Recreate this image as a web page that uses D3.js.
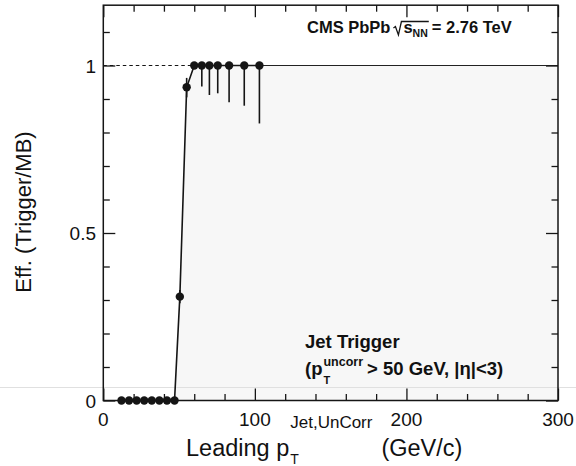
<!DOCTYPE html>
<html>
<head>
<meta charset="utf-8">
<script src="https://cdn.jsdelivr.net/npm/d3@7"></script>
<style>
  html, body { margin: 0; padding: 0; background: #fff; }
  svg { display: block; }
  text { font-family: "Liberation Sans", Arial, Helvetica, sans-serif; fill: #111; }
</style>
</head>
<body>
<svg id="chart" width="576" height="466"></svg>
<script>
// Trigger efficiency vs leading uncorrected jet pT
const ptValues   = [12, 17, 22, 27, 32, 37, 42, 47, 50.5, 55, 60, 65, 70, 75.5, 83, 93, 103];
const effValues  = [0, 0, 0, 0, 0, 0, 0, 0, 0.31, 0.935, 1, 1, 1, 1, 1, 1, 1];
const errLow     = [0, 0, 0, 0, 0, 0, 0, 0, 0.02, 0.03, 0, 0.063, 0.088, 0.083, 0.11, 0.12, 0.173];
const errHigh    = [0, 0, 0, 0, 0, 0, 0, 0, 0.02, 0.028, 0, 0, 0, 0, 0, 0, 0];
const xMajorTicks = [0, 100, 200, 300];
const xMinorTicks = [20, 40, 60, 80, 120, 140, 160, 180, 220, 240, 260, 280];
const yMajorTicks = [0, 0.5, 1];
const yTickLabels = ["0", "0.5", "1"];
const yMinorTicks = [0.1, 0.2, 0.3, 0.4, 0.6, 0.7, 0.8, 0.9, 1.1];

const svg = d3.select("#chart");
const L = 103.3, R = 558, T = 5.2, B = 400.5;
const x = d3.scaleLinear().domain([0, 300]).range([L, R]);
const y = d3.scaleLinear().domain([0, 1.18]).range([B, T]);
const ink = "#151515";

const pts = ptValues.map((p, i) => ({ x: p, y: effValues[i], lo: errLow[i], hi: errHigh[i] }));
const firstFull = pts.find(d => d.y >= 1);

// light shading under the efficiency curve
const rise = pts.filter(d => d.x >= 47 && d.x <= firstFull.x);
const shade = [...rise, { x: 300, y: 1 }, { x: 300, y: 0 }];
svg.append("path")
  .attr("d", d3.line().x(d => x(d.x)).y(d => y(d.y))(shade) + "Z")
  .attr("fill", "#f7f7f7");

// faint horizontal streak across the page
svg.append("line").attr("x1", 0).attr("x2", 576).attr("y1", 387.5).attr("y2", 387.5)
  .attr("stroke", "#e0e0e0").attr("stroke-width", 1);

// unity reference: dashed before plateau, solid along it
svg.append("line")
  .attr("x1", x(0)).attr("x2", x(firstFull.x)).attr("y1", y(1)).attr("y2", y(1))
  .attr("stroke", ink).attr("stroke-width", 1.2).attr("stroke-dasharray", "3.5,3");
svg.append("line")
  .attr("x1", x(firstFull.x)).attr("x2", x(300)).attr("y1", y(1)).attr("y2", y(1))
  .attr("stroke", "#222").attr("stroke-width", 1.2);

// connecting line through the points
svg.append("path")
  .attr("d", d3.line().x(d => x(d.x)).y(d => y(d.y))(pts))
  .attr("fill", "none").attr("stroke", ink).attr("stroke-width", 1.6);

// error bars
svg.append("g").selectAll("line").data(pts.filter(d => d.lo > 0 || d.hi > 0)).join("line")
  .attr("x1", d => x(d.x)).attr("x2", d => x(d.x))
  .attr("y1", d => y(d.y + d.hi)).attr("y2", d => y(d.y - d.lo))
  .attr("stroke", ink).attr("stroke-width", 1.6);

// axes frame and ticks
function tickAxis(axisFn, scale, values, size, tx, ty) {
  const g = svg.append("g").attr("transform", `translate(${tx},${ty})`)
    .call(axisFn(scale).tickValues(values).tickSize(size).tickFormat(""));
  g.select(".domain").remove();
  g.selectAll(".tick line").attr("stroke", ink).attr("stroke-width", 1.3);
  return g;
}
tickAxis(d3.axisBottom, x, xMajorTicks, -12, 0, B);
tickAxis(d3.axisBottom, x, xMinorTicks, -6.5, 0, B);
tickAxis(d3.axisTop, x, xMajorTicks, -12, 0, T);
tickAxis(d3.axisTop, x, xMinorTicks, -6.5, 0, T);
tickAxis(d3.axisLeft, y, yMajorTicks, -12, L, 0);
tickAxis(d3.axisLeft, y, yMinorTicks, -6.5, L, 0);
tickAxis(d3.axisRight, y, yMajorTicks, -12, R, 0);
tickAxis(d3.axisRight, y, yMinorTicks, -6.5, R, 0);

svg.append("rect").attr("x", L).attr("y", T).attr("width", R - L).attr("height", B - T)
  .attr("fill", "none").attr("stroke", ink).attr("stroke-width", 1.5);

// markers
svg.append("g").selectAll("circle").data(pts).join("circle")
  .attr("cx", d => x(d.x)).attr("cy", d => y(d.y)).attr("r", 4.2)
  .attr("fill", ink);

// tick labels
svg.append("g").selectAll("text").data(yMajorTicks).join("text")
  .attr("x", 96).attr("y", d => y(d) + 7)
  .attr("text-anchor", "end").attr("font-size", 19)
  .text((d, i) => yTickLabels[i]);
svg.append("g").selectAll("text").data(xMajorTicks).join("text")
  .attr("x", d => x(d)).attr("y", 426)
  .attr("text-anchor", "middle").attr("font-size", 19)
  .text(d => d);

// y axis title
svg.append("text")
  .attr("transform", "translate(31,212) rotate(-90)")
  .attr("text-anchor", "middle").attr("font-size", 22)
  .text("Eff. (Trigger/MB)");

// x axis title with super/subscripts
function width(sel) { return sel.node().getComputedTextLength(); }
const xt1 = svg.append("text").attr("x", 186).attr("y", 456).attr("font-size", 23.5).text("Leading p");
const xe = 186 + width(xt1);
const xsup = svg.append("text").attr("x", xe + 1).attr("y", 428).attr("font-size", 17).text("Jet,UnCorr");
svg.append("text").attr("x", xe + 1).attr("y", 464).attr("font-size", 14).text("T");
svg.append("text").attr("x", xe + 1 + width(xsup) + 9).attr("y", 456).attr("font-size", 23.5).text("(GeV/c)");

// experiment label
const c1 = svg.append("text").attr("x", 307).attr("y", 33).attr("font-size", 16.5).attr("font-weight", "bold").text("CMS PbPb");
const sx = 307 + width(c1) + 3;
const s1 = svg.append("text").attr("x", sx + 10).attr("y", 33).attr("font-size", 16.5).attr("font-weight", "bold").text("s");
const nnX = sx + 10 + width(s1);
const nn = svg.append("text").attr("x", nnX).attr("y", 37).attr("font-size", 10.5).attr("font-weight", "bold").text("NN");
const nnEnd = nnX + width(nn);
svg.append("path")
  .attr("d", `M${sx},28 L${sx + 2},26.5 L${sx + 5},35 L${sx + 8},21.5 L${nnEnd + 1},21.5`)
  .attr("fill", "none").attr("stroke", ink).attr("stroke-width", 1.3);
svg.append("text").attr("x", nnEnd + 4).attr("y", 33).attr("font-size", 16.5).attr("font-weight", "bold").text("= 2.76 TeV");

// trigger description
svg.append("text").attr("x", 305).attr("y", 348).attr("font-size", 18.5).attr("font-weight", "bold").text("Jet Trigger");
const j1 = svg.append("text").attr("x", 305).attr("y", 375).attr("font-size", 18.5).attr("font-weight", "bold").text("(p");
const je = 305 + width(j1);
const jsup = svg.append("text").attr("x", je + 1).attr("y", 366).attr("font-size", 12.5).attr("font-weight", "bold").text("uncorr");
svg.append("text").attr("x", je + 1).attr("y", 384).attr("font-size", 11).attr("font-weight", "bold").text("T");
svg.append("text").attr("x", je + 1 + width(jsup) + 4).attr("y", 375).attr("font-size", 18.5).attr("font-weight", "bold")
  .text("> 50 GeV, |η|<3)");
</script>
</body>
</html>
